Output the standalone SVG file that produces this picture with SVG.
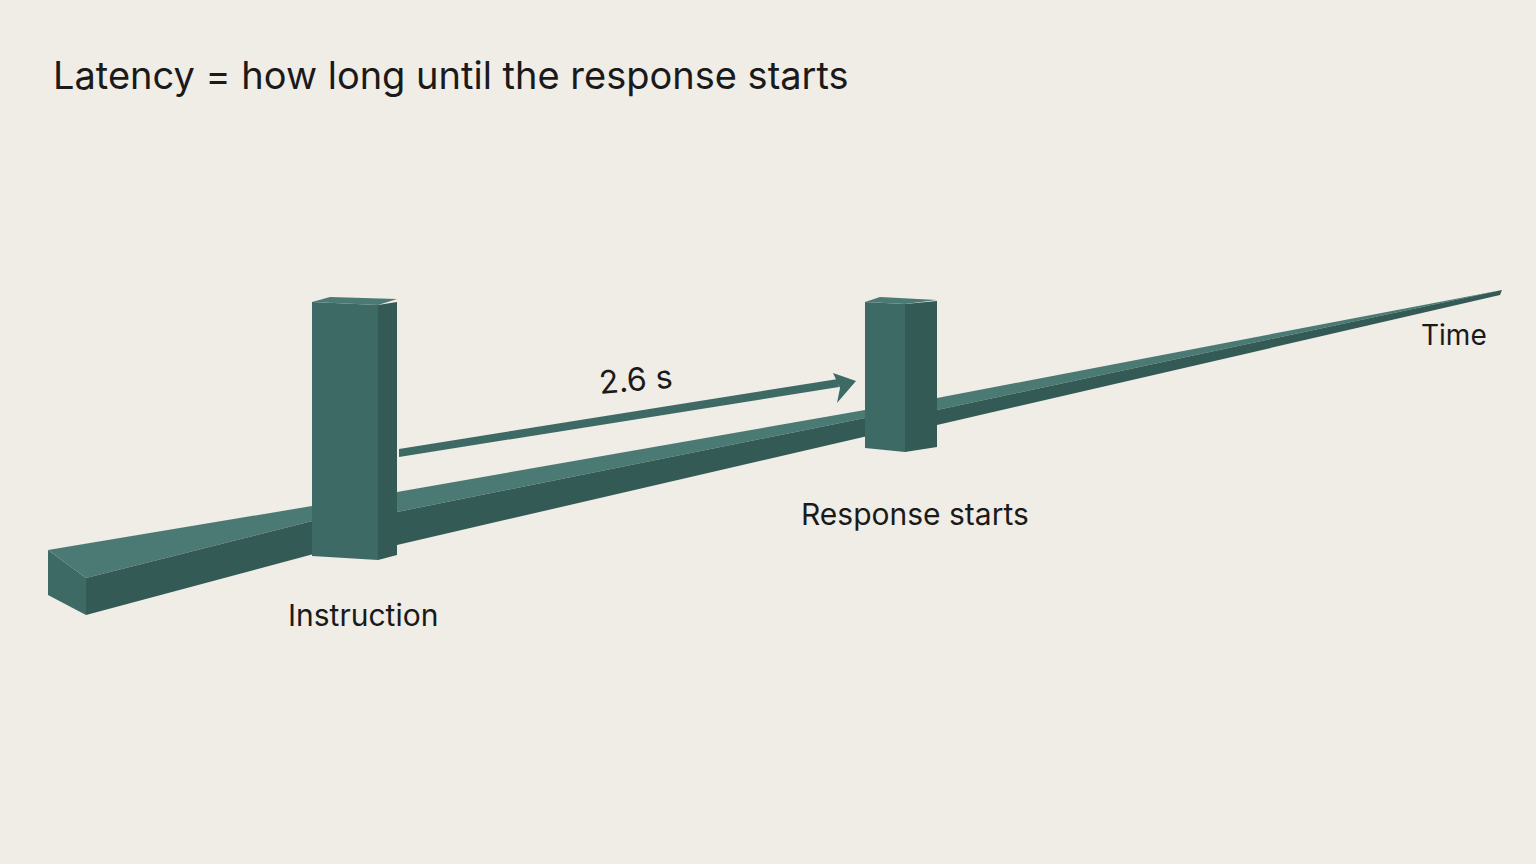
<svg xmlns="http://www.w3.org/2000/svg" width="1536" height="864" viewBox="0 0 1536 864">
<style>
.t{font-family:"Inter","Liberation Sans",sans-serif;fill:#1a1a1a}
.top{fill:#4b7a74}.front{fill:#3e6a65}.side{fill:#335a55}
</style>
<rect width="1536" height="864" fill="#f0ece6"/>
<text class="t" x="53" y="89" font-size="38">Latency = how long until the response starts</text>
<g id="beam">
<polygon class="front" points="48,550 86,578 86,615 48,595"/>
<polygon class="top" points="48,550 312,506 336,515 86,578"/>
<polygon class="side" points="86,578 336,515 336,548 86,615"/>
<polygon class="top" points="397,492 865,410 885,414 397,512"/>
<polygon class="side" points="397,512 885,414 885,432 397,545"/>
<polygon class="top" points="937,398 1502,290 937,410"/>
<polygon class="side" points="937,410 1502,290 1500,295 937,425"/>
</g>
<g id="instruction">
<polygon class="front" points="312,302 378,305 378,560 312,556"/>
<polygon class="side" points="378,305 397,302 397,555 378,560"/>
<polygon class="top" points="312,302 330,297 397,299 378,305"/>
<text class="t" x="288" y="626" font-size="30">Instruction</text>
</g>
<g id="response">
<polygon class="front" points="865,302 905,304 905,452 865,448"/>
<polygon class="side" points="905,304 937,301 937,447 905,452"/>
<polygon class="top" points="865,302 880,297 937,300 905,304"/>
<text class="t" x="801" y="525" font-size="30">Response starts</text>
</g>
<g id="connectors">
<polygon class="front" points="399,449 838,379 839,387 399,457"/>
<polygon class="front" points="833,373 856,381 837,403 840,388"/>
<text class="t" x="600" y="394" font-size="32" transform="rotate(-5 600 394)">2.6 s</text>
</g>
<text class="t" x="1421" y="345" font-size="28">Time</text>
</svg>
